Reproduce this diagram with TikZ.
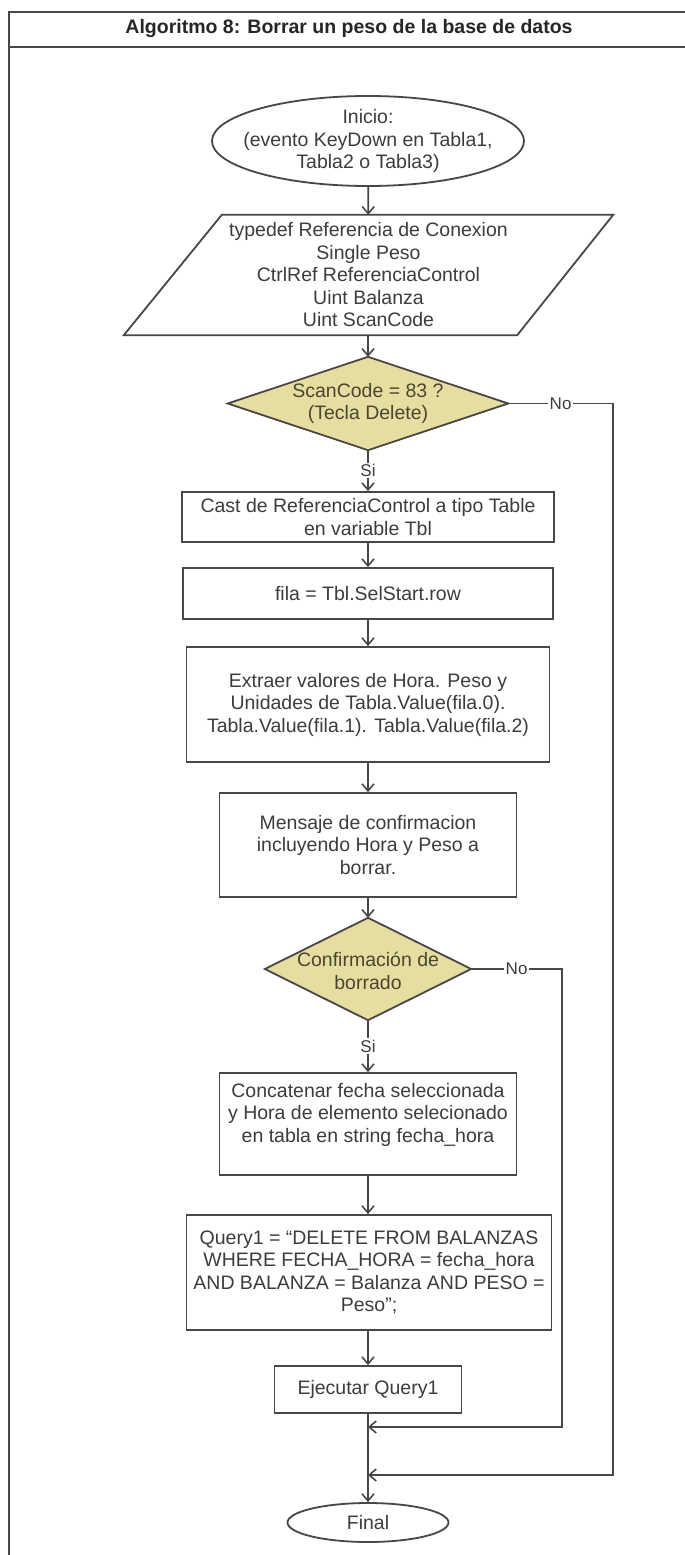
\documentclass[tikz,border=0pt]{standalone}
\usepackage{fontspec}
\setmainfont{Liberation Sans}
\usetikzlibrary{arrows.meta,shapes.geometric}
\definecolor{linecol}{HTML}{4A4547}
\definecolor{txtcol}{HTML}{3C3C3C}
\definecolor{decfill}{HTML}{E6DDA0}
\definecolor{dectxt}{HTML}{4A4630}

\begin{document}
\begin{tikzpicture}[x=1pt,y=-1pt,
  base/.style={font=\fontsize{19.5}{22.5}\selectfont, text=txtcol, align=center, inner sep=0pt},
  procbox/.style={base, draw=linecol, line width=1.8pt, rectangle},
  conn/.style={draw=linecol, line width=1.8pt},
  flow/.style={conn, -{Straight Barb[length=7pt,width=12pt,line width=1.6pt]}},
  lbl/.style={font=\fontsize{17}{20}\selectfont, text=txtcol, fill=white, inner sep=1.5pt},
  frame/.style={draw=linecol, line width=2pt},
]
% page and outer frame
\fill[white] (0,0) rectangle (685,1555);
\useasboundingbox (0,0) rectangle (685,1555);
\draw[frame] (685,12) -- (9,12) -- (9,1555);
\draw[frame] (9,47) -- (685,47);

\node[base, font=\fontsize{19.5}{22}\selectfont\bfseries, text=black!85] (title) at (349,29)
  {Algoritmo 8: Borrar un peso de la base de datos};

% start terminal: the outline is drawn round a fixed-size box
\node[base, minimum width=312pt, minimum height=90pt] (start) at (368,141)
  {Inicio:\\(evento KeyDown en Tabla1,\\Tabla2 o Tabla3)};
\draw[conn] (start.center) ellipse [x radius=156pt, y radius=45pt];

% declarations (parallelogram)
\node[base, minimum width=489pt, minimum height=120pt] (decl) at (368.5,275)
  {typedef Referencia de Conexion\\Single Peso\\CtrlRef ReferenciaControl\\Uint Balanza\\Uint ScanCode};
\draw[conn] ([xshift=98pt]decl.north west) -- (decl.north east)
  -- ([xshift=-96pt]decl.south east) -- (decl.south west) -- cycle;

% first decision
\node[minimum width=280pt, minimum height=93pt, inner sep=0pt] (d1) at (368,403.5) {};
\filldraw[conn, fill=decfill] (d1.north) -- (d1.east) -- (d1.south) -- (d1.west) -- cycle;
\node[base, text=dectxt] (d1t) at (d1.center) {ScanCode = 83 ?\\(Tecla Delete)};

% process steps
\node[procbox, minimum width=372pt, minimum height=50pt] (cast) at (368,517)
  {Cast de ReferenciaControl a tipo Table\\en variable Tbl};
\node[procbox, minimum width=370pt, minimum height=51pt] (fila) at (368,593.5)
  {fila = Tbl.SelStart.row};
\node[procbox, minimum width=363pt, minimum height=115pt] (extr) at (368,704.5)
  {Extraer valores de Hora. Peso y\\Unidades de Tabla.Value(fila.0).\\Tabla.Value(fila.1). Tabla.Value(fila.2)};
\node[procbox, minimum width=297pt, minimum height=104pt] (msg) at (368,845)
  {Mensaje de confirmacion\\incluyendo Hora y Peso a\\borrar.};

% second decision
\node[minimum width=206pt, minimum height=102pt, inner sep=0pt] (d2) at (368,969) {};
\filldraw[conn, fill=decfill] (d2.north) -- (d2.east) -- (d2.south) -- (d2.west) -- cycle;
\node[base, text=dectxt] (d2t) at ([yshift=-2pt]d2.center) {Confirmación de\\borrado};

\node[procbox, minimum width=297pt, minimum height=102pt] (concat) at (368,1124)
  {Concatenar fecha seleccionada\\y Hora de elemento selecionado\\en tabla en string fecha\_hora\\~};
\node[procbox, minimum width=365pt, minimum height=115pt] (query) at (369,1272.5)
  {Query1 = “DELETE FROM BALANZAS\\WHERE FECHA\_HORA = fecha\_hora\\AND BALANZA = Balanza AND PESO =\\Peso”;};
\node[procbox, minimum width=187pt, minimum height=47pt] (ejec) at (368,1389.5)
  {Ejecutar Query1};

% end terminal
\node[base, draw=linecol, line width=1.8pt, ellipse, minimum width=161pt, minimum height=39pt]
  (final) at (368,1522.5) {Final};

% joins and corners of the return lines
\coordinate (j1) at (368,1427);
\coordinate (j2) at (368,1475);
\coordinate (no1) at (613,403.5);
\coordinate (no2) at (562,969);

% main flow (vertical arrows keep the x of their source)
\draw[flow] (start) -- (decl);
\draw[flow] (decl.south -| d1) -- (d1);
\draw[flow] (d1) -- node[lbl]{Si} (cast);
\draw[flow] (cast) -- (fila);
\draw[flow] (fila) -- (extr);
\draw[flow] (extr) -- (msg);
\draw[flow] (msg) -- (d2);
\draw[flow] (d2) -- node[lbl]{Si} (concat);
\draw[flow] (concat.south) -- (concat.south |- query.north);
\draw[flow] (query.south -| ejec) -- (ejec);
\draw[flow] (ejec) -- (final);

% "No" branches
\draw[flow] (d1.east) -- node[lbl]{No} (no1) |- (j2);
\draw[flow] (d2.east) -- node[lbl]{No} (no2) |- (j1);
\end{tikzpicture}
\end{document}
